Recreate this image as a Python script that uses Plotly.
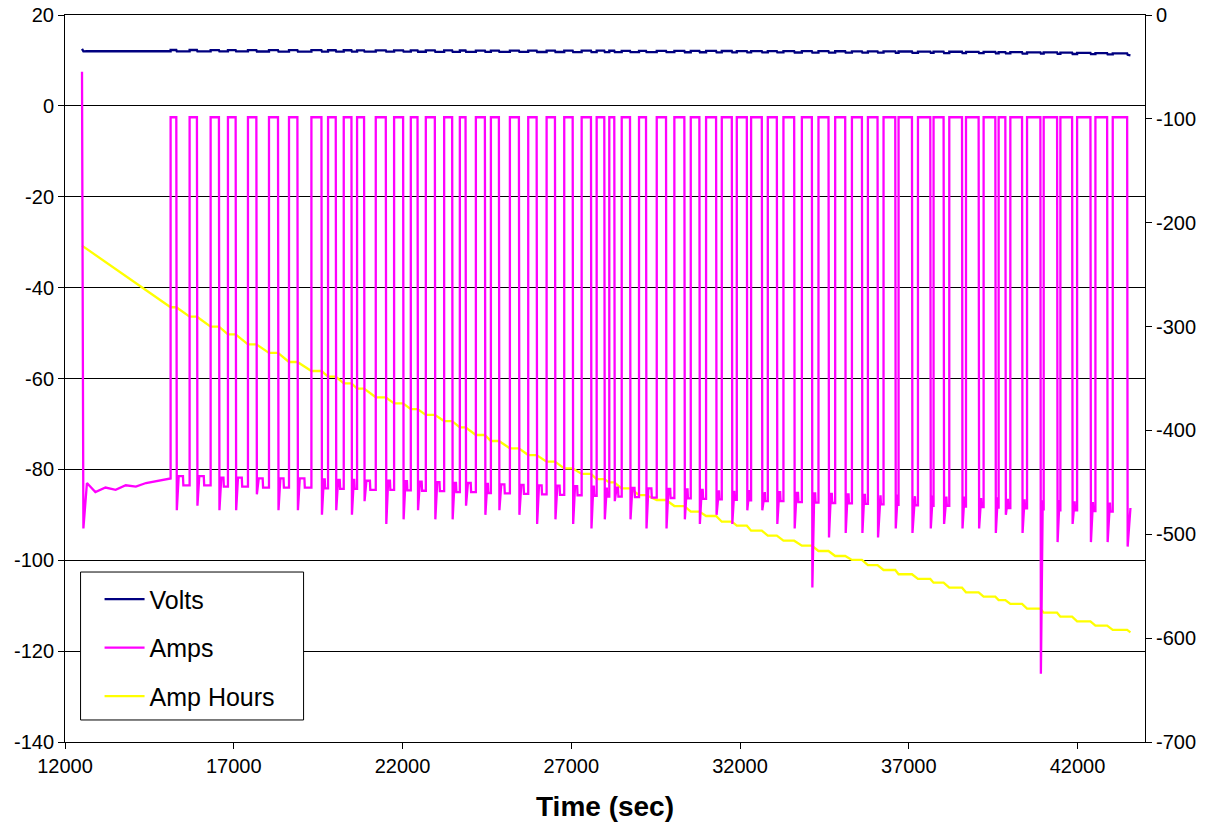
import plotly.graph_objects as go

# ---------------- data ----------------
x_ticks = [12000, 17000, 22000, 27000, 32000, 37000, 42000]
left_ticks = [20, 0, -20, -40, -60, -80, -100, -120, -140]
right_ticks = [0, -100, -200, -300, -400, -500, -600, -700]

start_time = 12504
end_time = 43569

# first, continuous discharge before the pulsing starts
init_times = [12504, 12545, 12650, 12900, 13200, 13500, 13800, 14100, 14400, 14800, 15100]
init_amps = [7.5, -93, -83, -85, -84, -84.5, -83.5, -83.8, -83, -82.5, -82]
init_volts = [12.55, 12.0, 12.05, 12.05, 12.04, 12.04, 12.04, 12.03, 12.03, 12.02, 12.02]

# rest periods (current near zero): start (rise) and end (fall) times
rise_times = [15129, 15692, 16315, 16828, 17421, 18044, 18637, 19301, 19794, 20259,
              20654, 21208, 21751, 22246, 22691, 23234, 23699, 24174, 24619, 25182,
              25725, 26270, 26792, 27308, 27753, 28127, 28495, 29008, 29533, 30055,
              30541, 30995, 31460, 31905, 32329, 32824, 33287, 33833, 34325, 34820,
              35316, 35790, 36253, 36698, 37273, 37735, 38201, 38696, 39218, 39663,
              40010, 40505, 40998, 41493, 41988, 42531, 43044]
fall_times = [15298, 15909, 16561, 17056, 17670, 18311, 18886, 19598, 20022, 20487,
              20861, 21505, 22018, 22445, 22958, 23471, 23868, 24441, 24856, 25449,
              25974, 26517, 27042, 27584, 27979, 28275, 28741, 29215, 29808, 30351,
              30796, 31291, 31757, 32202, 32646, 33091, 33605, 34129, 34622, 35117,
              35612, 36075, 36600, 37095, 37638, 38032, 38578, 39070, 39565, 39862,
              40357, 40900, 41395, 41840, 42383, 42878, 43471]
rest_amps = -2.5

# current spike right after each rest period ends
spike_amps = [-89, -88, -89, -89, -85.5, -89, -89, -90, -89, -90,
              -87, -92, -91, -89, -91, -91, -88, -90, -89, -90,
              -92, -91, -92, -93, -91, -87, -91, -93, -93, -91,
              -92, -90, -92, -89, -89, -92, -93, -106, -95, -94,
              -94, -95, -93, -94, -93, -92, -93, -93, -94, -90,
              -94, -125, -96, -92, -96, -96, -97]
# discharge current after recovery and at the end of each discharge
level_hi = [-81.5, -81.5, -81.8, -81.8, -82.0, -82.0, -82.0, -82.2, -82.3, -82.3,
            -82.5, -82.5, -82.6, -82.7, -82.8, -83.0, -83.0, -83.2, -83.3, -83.4,
            -83.5, -83.6, -83.7, -83.8, -84.0, -84.0, -84.1, -84.2, -84.3, -84.4,
            -84.5, -84.6, -84.7, -84.8, -85.0, -85.0, -85.2, -85.3, -85.4, -85.5,
            -85.6, -85.7, -85.8, -85.9, -86.0, -86.0, -86.2, -86.3, -86.4, -86.5,
            -86.6, -86.8, -87.0, -87.0, -87.2, -87.3, -87.5]
level_lo = [-83.5, -83.5, -83.8, -83.8, -84.0, -84.0, -84.0, -84.2, -84.3, -84.3,
            -84.5, -84.5, -84.6, -84.7, -84.8, -85.0, -85.0, -85.2, -85.3, -85.4,
            -85.5, -85.6, -85.7, -85.8, -86.0, -86.0, -86.1, -86.2, -86.3, -86.4,
            -86.5, -86.6, -86.7, -86.8, -87.0, -87.0, -87.2, -87.3, -87.4, -87.5,
            -87.6, -87.7, -87.8, -87.9, -88.0, -88.0, -88.2, -88.3, -88.4, -88.5,
            -88.6, -88.8, -89.0, -89.0, -89.2, -89.3, -88.5]

volts_rest = [12.30, 12.30, 12.29, 12.28, 12.27, 12.26, 12.26, 12.25, 12.24, 12.24,
              12.23, 12.22, 12.22, 12.21, 12.20, 12.20, 12.19, 12.18, 12.18, 12.17,
              12.16, 12.16, 12.15, 12.14, 12.14, 12.13, 12.12, 12.12, 12.11, 12.10,
              12.10, 12.09, 12.08, 12.07, 12.07, 12.06, 12.05, 12.04, 12.03, 12.02,
              12.01, 12.00, 11.98, 11.97, 11.95, 11.93, 11.91, 11.89, 11.87, 11.85,
              11.82, 11.79, 11.76, 11.72, 11.68, 11.63, 11.55]
volts_dis = [12.00, 12.00, 11.99, 11.98, 11.97, 11.96, 11.96, 11.95, 11.94, 11.94,
             11.93, 11.92, 11.92, 11.91, 11.90, 11.90, 11.89, 11.88, 11.88, 11.87,
             11.86, 11.86, 11.85, 11.84, 11.84, 11.83, 11.82, 11.82, 11.81, 11.80,
             11.80, 11.79, 11.78, 11.77, 11.77, 11.76, 11.75, 11.74, 11.73, 11.72,
             11.71, 11.70, 11.68, 11.67, 11.65, 11.63, 11.61, 11.59, 11.57, 11.55,
             11.52, 11.49, 11.46, 11.42, 11.38, 11.33, 11.25]
end_volts = 11.12

# amp hours: value held during each rest period
ah_start = -222.1
ah_at_rest = [-281.4, -290.5, -300.1, -307.5, -317.1, -325.4, -334.1, -342.8, -348.2, -354.6,
              -359.8, -368.1, -374.0, -379.5, -385.0, -391.0, -397.0, -404.4, -410.2, -417.2,
              -423.7, -430.1, -436.5, -441.9, -446.8, -450.0, -455.7, -462.2, -467.0, -472.8,
              -478.2, -482.4, -487.9, -491.7, -496.5, -501.3, -506.2, -511.0, -516.1, -520.9,
              -524.7, -529.6, -534.4, -538.5, -543.0, -546.6, -551.4, -555.9, -560.1, -563.3,
              -567.1, -571.6, -575.5, -579.3, -583.8, -588.0, -592.1]
ah_end = -594.4

# ---------------- build the series ----------------
t_a = list(init_times)
amps = list(init_amps)
volts = list(init_volts)
n = len(rise_times)
for k in range(n):
    r, f = rise_times[k], fall_times[k]
    prev_lo = init_amps[-1] if k == 0 else level_lo[k - 1]
    prev_v = init_volts[-1] if k == 0 else volts_dis[k - 1]
    t_a += [r, r, f]
    amps += [prev_lo, rest_amps, rest_amps]
    volts += [prev_v, volts_rest[k], volts_rest[k]]
    if k + 1 < n:
        mid = (f + rise_times[k + 1]) / 2
        t_a += [f + 15, f + 70, mid, mid + 12]
        amps += [spike_amps[k], level_hi[k], level_hi[k], level_lo[k]]
        volts += [volts_dis[k]] * 4
    else:
        t_a += [f + 15]
        amps += [spike_amps[k]]
        volts += [volts_dis[k]]
t_a += [end_time]
amps += [level_lo[-1]]
volts += [end_volts]

t_ah = [start_time]
ah = [ah_start]
for k in range(n):
    t_ah += [rise_times[k], fall_times[k]]
    ah += [ah_at_rest[k], ah_at_rest[k]]
t_ah += [end_time]
ah += [ah_end]


def label(v):
    return str(v)  # plain hyphen-minus, as in the reference


# ---------------- figure ----------------
fig = go.Figure()
fig.add_trace(go.Scatter(x=t_a, y=volts, name="Volts", mode="lines",
                         line=dict(color="#000080", width=2.3), yaxis="y2",
                         legendgroup="v"))
fig.add_trace(go.Scatter(x=t_a, y=amps, name="Amps", mode="lines",
                         line=dict(color="#FF00FF", width=2.3), yaxis="y2",
                         legendgroup="a"))
fig.add_trace(go.Scatter(x=t_ah, y=ah, name="Amp Hours", mode="lines",
                         line=dict(color="#FFFF00", width=2.3), yaxis="y",
                         legendgroup="h"))

font_family = "Liberation Sans, Arial, sans-serif"
fig.update_layout(
    width=1210, height=826,
    margin=dict(l=65, r=65, t=15, b=84, autoexpand=False),
    paper_bgcolor="white", plot_bgcolor="white",
    font=dict(family=font_family, size=20, color="black"),
    showlegend=True,
    legend=dict(x=0.032, y=0.2277, xanchor="left", yanchor="top",
                bgcolor="rgba(0,0,0,0)", borderwidth=0,
                font=dict(size=25, family=font_family),
                tracegroupgap=13, itemwidth=40, traceorder="grouped"),
    xaxis=dict(range=[12000, 44000], tickmode="array", tickvals=x_ticks,
               ticktext=[label(v) for v in x_ticks], automargin=False,
               ticks="outside", ticklen=6, tickcolor="black",
               showline=True, linecolor="black", linewidth=1, mirror=True,
               showgrid=False, zeroline=False,
               title=dict(text="<b>Time (sec)</b>", font=dict(size=28, family=font_family),
                          standoff=20)),
    yaxis=dict(side="right", range=[-700, 0], tickmode="array", tickvals=right_ticks,
               ticktext=[label(v) for v in right_ticks], automargin=False,
               ticks="outside", ticklen=6, tickcolor="black",
               showline=True, linecolor="black", linewidth=1,
               showgrid=False, zeroline=False),
    yaxis2=dict(overlaying="y", side="left", range=[-140, 20], tickmode="array",
                tickvals=left_ticks, ticktext=[label(v) for v in left_ticks],
                automargin=False, ticks="outside", ticklen=6, tickcolor="black",
                showline=True, linecolor="black", linewidth=1,
                showgrid=True, gridcolor="black", gridwidth=1, zeroline=False),
    shapes=[dict(type="rect", xref="paper", yref="paper",
                 x0=0.0144, x1=0.2209, y0=0.0303, y1=0.2338,
                 line=dict(color="black", width=1), fillcolor="white", layer="above")],
)

fig.write_html("out.html")
